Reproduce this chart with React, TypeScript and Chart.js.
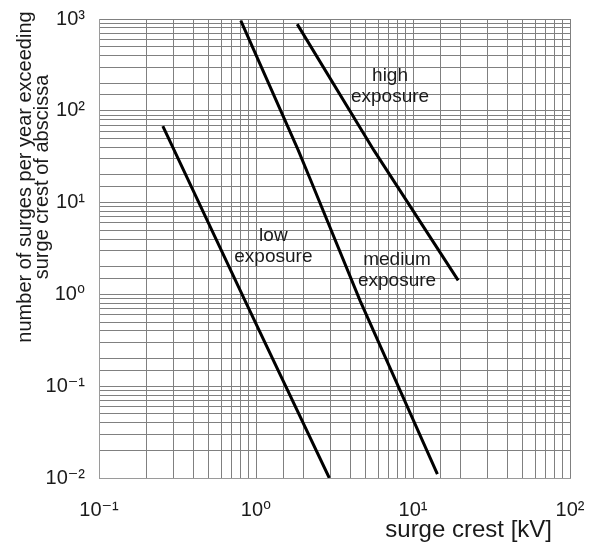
import { useEffect, useRef } from "react";
import { Chart, registerables } from "chart.js";

Chart.register(...registerables);

const FONT = "'Liberation Sans', Arial, 'DejaVu Sans', sans-serif";

// Axis ranges and tick labels
const xTickLabels = ["10⁻¹", "10⁰", "10¹", "10²"];
const yTickLabels = ["10⁻²", "10⁻¹", "10⁰", "10¹", "10²", "10³"];
const xMin = 0.1;
const xMax = 100;
const yMin = 0.01;
const yMax = 1000;

// Curves (surge crest kV -> surges per year)
const lowX = [0.255, 0.851, 2.93];
const lowY = [68, 0.855, 0.01];
const mediumX = [0.8, 1.86, 2.23, 4.6, 14.3];
const mediumY = [960, 37, 17.5, 0.855, 0.011];
const highX = [1.83, 5.64, 19.4];
const highY = [880, 37, 1.42];

// Curve labels (data-space anchor)
const curveLabels = [
  { lines: ["low", "exposure"], x: 1.29, y: 3.33 },
  { lines: ["medium", "exposure"], x: 7.91, y: 1.82 },
  { lines: ["high", "exposure"], x: 7.14, y: 183 },
];

const xTitle = "surge crest [kV]";
const yTitle = ["number of surges per year exceeding", "surge crest of abscissa"];

const toPoints = (xs: number[], ys: number[]) => xs.map((x, i) => ({ x, y: ys[i] }));

const decadeLabel = (labels: string[], minExp: number) => (value: any) => {
  const v = Number(value);
  const e = Math.log10(v);
  const r = Math.round(e);
  if (Math.abs(e - r) < 1e-6) {
    const idx = r - minExp;
    return labels[idx] ?? "";
  }
  return "";
};

const zeroPad = (s: any) => {
  s.paddingTop = 0;
  s.paddingBottom = 0;
  s.paddingLeft = 0;
  s.paddingRight = 0;
};

const textPlugin = {
  id: "textPlugin",
  afterDraw(chart: any) {
    const { ctx, chartArea, scales } = chart;
    ctx.save();
    ctx.fillStyle = "#1a1a1a";
    // curve labels
    ctx.font = `19px ${FONT}`;
    ctx.textAlign = "center";
    ctx.textBaseline = "middle";
    for (const lab of curveLabels) {
      const px = scales.x.getPixelForValue(lab.x);
      const py = scales.y.getPixelForValue(lab.y);
      const lh = 21;
      const n = lab.lines.length;
      lab.lines.forEach((t, i) => {
        ctx.fillText(t, px, py + (i - (n - 1) / 2) * lh);
      });
    }
    // x title
    ctx.font = `24px ${FONT}`;
    ctx.textAlign = "right";
    ctx.textBaseline = "middle";
    ctx.fillText(xTitle, chartArea.right - 18, chartArea.bottom + 52);
    // y title
    ctx.font = `20px ${FONT}`;
    ctx.textAlign = "center";
    ctx.textBaseline = "middle";
    const cy = chartArea.top + 158;
    const xs = [17, 34];
    yTitle.forEach((t, i) => {
      ctx.save();
      ctx.translate(xs[i], cy);
      ctx.rotate(-Math.PI / 2);
      ctx.fillText(t, 0, 0);
      ctx.restore();
    });
    ctx.restore();
  },
};

export default function App() {
  const ref = useRef<HTMLCanvasElement>(null);
  useEffect(() => {
    if (!ref.current) return;
    Chart.defaults.font.family = FONT;
    const lineStyle = {
      borderColor: "#000",
      borderWidth: 3,
      pointRadius: 0,
      showLine: true,
      tension: 0,
      fill: false,
    };
    const chart = new Chart(ref.current, {
      type: "scatter",
      data: {
        datasets: [
          { label: "low exposure", data: toPoints(lowX, lowY), ...lineStyle },
          { label: "medium exposure", data: toPoints(mediumX, mediumY), ...lineStyle },
          { label: "high exposure", data: toPoints(highX, highY), ...lineStyle },
        ],
      },
      options: {
        animation: false,
        responsive: false,
        devicePixelRatio: 1,
        layout: { padding: { top: 11, right: 25, left: 0, bottom: 0 } },
        plugins: {
          legend: { display: false },
          tooltip: { enabled: false },
        },
        scales: {
          x: {
            type: "logarithmic",
            min: xMin,
            max: xMax,
            afterFit: (s: any) => {
              s.height = 66;
              zeroPad(s);
            },
            grid: { color: "#808080", lineWidth: 1, drawTicks: false },
            border: { color: "#9a9a9a", width: 1 },
            ticks: {
              autoSkip: false,
              maxRotation: 0,
              padding: 20,
              color: "#1a1a1a",
              font: { size: 20, family: FONT },
              callback: decadeLabel(xTickLabels, -1),
            },
          },
          y: {
            type: "logarithmic",
            min: yMin,
            max: yMax,
            afterFit: (s: any) => {
              s.width = 91;
              zeroPad(s);
            },
            grid: { color: "#808080", lineWidth: 1, drawTicks: false },
            border: { color: "#9a9a9a", width: 1 },
            ticks: {
              autoSkip: false,
              padding: 14,
              color: "#1a1a1a",
              font: { size: 20, family: FONT },
              callback: decadeLabel(yTickLabels, -2),
            },
          },
        },
      },
      plugins: [textPlugin],
    } as any);
    return () => chart.destroy();
  }, []);
  return (
    <div style={{ width: 587, height: 536 }}>
      <canvas ref={ref} width={587} height={536} style={{ display: "block" }} />
    </div>
  );
}
